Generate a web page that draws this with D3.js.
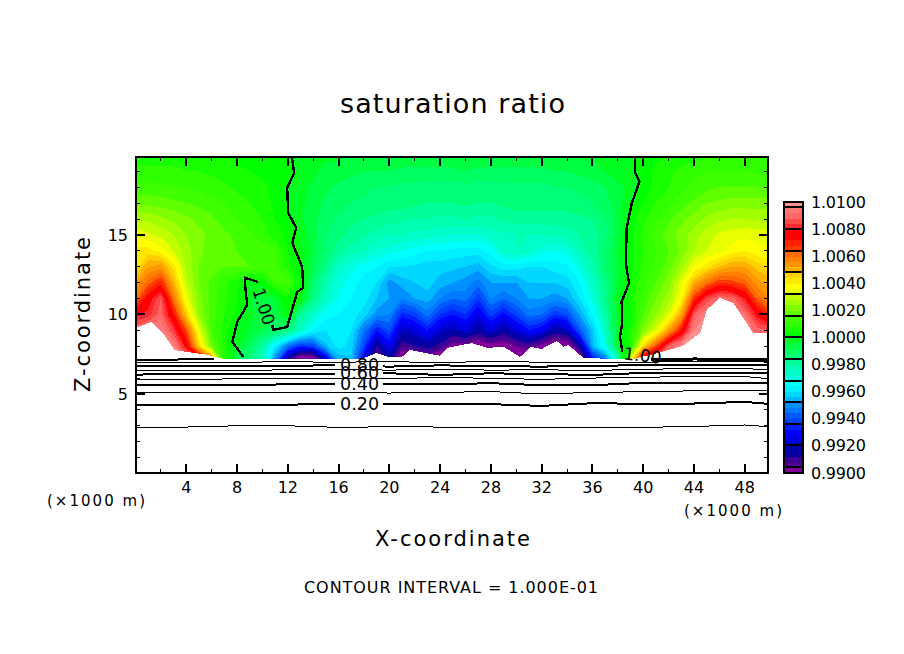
<!DOCTYPE html>
<html><head><meta charset="utf-8">
<script src="https://d3js.org/d3.v7.min.js"></script>
<style>html,body{margin:0;background:#fff}svg{display:block}text{font-family:"DejaVu Sans",sans-serif;fill:#000}</style>
</head><body><svg id="c" width="904" height="654"></svg>
<script>
const titleText="saturation ratio", xTitle="X-coordinate", zTitle="Z-coordinate", intervalText="CONTOUR INTERVAL = 1.000E-01", unitText="(×1000 m)";
const xTicks=[4,8,12,16,20,24,28,32,36,40,44,48], xMinor=[2,6,10,14,18,22,26,30,34,38,42,46];
const zTicks=[5,10,15], zMinor=[1,2,3,4,6,7,8,9,11,12,13,14,16,17,18,19];
const barLabels=["0.9900","0.9920","0.9940","0.9960","0.9980","1.0000","1.0020","1.0040","1.0060","1.0080","1.0100"];
const palette=["#800099","#500090","#3c0098","#0800a0","#0000a8","#0000d0","#0000e8","#0000ff","#0020ff","#0040ff","#0058ff","#0078ff","#0090ff","#00b8ff","#00d8ff","#00f0ff","#00ffff","#00ffe0","#00ffc8","#00ffb0","#00ff98","#00ff78","#00ff60","#00ff40","#00ff20","#00ff00","#18ff00","#30ff00","#40ff00","#60ff00","#80ff00","#a0ff00","#c0ff00","#e8ff00","#ffff00","#ffe800","#ffd000","#ffb000","#ff9800","#ff8000","#ff6800","#ff3800","#ff2000","#ff0000","#ff0000","#ff2830","#ff4848","#ff6868","#ff7878","#ff9090"];
// saturation ratio minus 1, in units of 1e-4; columns x=0..50 km, rows z=20..7 km
const zRows=[20,19,18,17,16,15,14,13,12,11,10,9,8,7];
const r20=[6,6,6,6,6,5,5,4,3,3,2, 1,1,-1,-2,-3,-3,-4,-4,-4,-5, -5,-5,-5,-5,-5,-5,-5,-5,-5,-5, -5,-5,-4,-4,-3,-3,-2,-1,-1,2, 3,4,5,6,7,8,8,8,8,8];
const r19=[9,9,9,9,8,8,7,6,5,4,3, 2,1,-1,-3,-5,-6,-7,-8,-8,-8, -9,-9,-9,-9,-9,-8,-9,-9,-9,-9, -9,-9,-8,-8,-7,-6,-4,-2,-1,2, 5,7,9,11,12,12,12,12,11,11];
const r18=[13,13,13,12,12,11,10,9,7,6,5, 3,0,-2,-5,-7,-9,-10,-11,-12,-12, -13,-13,-14,-14,-14,-13,-14,-14,-13,-13, -13,-13,-12,-12,-11,-10,-8,-5,-3,2, 5,8,11,13,15,16,16,16,16,16];
const r17=[20,19,18,17,16,15,13,12,10,8,6, 3,0,-3,-6,-9,-10,-12,-13,-13,-14, -14,-15,-16,-16,-16,-15,-16,-16,-15,-14, -14,-14,-14,-14,-13,-12,-10,-6,0,4, 8,11,14,17,20,21,22,22,22,22];
const r16=[28,27,25,23,21,19,17,14,12,10,8, 4,1,-3,-7,-10,-13,-15,-16,-17,-18, -19,-20,-20,-21,-21,-20,-21,-21,-19,-18, -18,-18,-18,-18,-17,-16,-12,-6,2,7, 11,15,19,22,25,27,28,28,27,27];
const r15=[35,33,31,28,24,21,19,17,15,13,10, 6,3,-1,-6,-12,-15,-17,-20,-22,-24, -24,-25,-26,-27,-28,-28,-28,-26,-25,-24, -24,-24,-23,-22,-20,-18,-14,-6,3,9, 14,18,22,26,30,33,34,35,35,34];
const r14=[42,42,38,32,26,21,18,16,16,15,14, 12,4,0,-6,-12,-18,-22,-24,-28,-30, -32,-34,-36,-36,-37,-38,-38,-34,-26,-24, -26,-30,-32,-30,-24,-18,-12,-4,3,8, 12,16,21,28,32,34,38,40,37,36];
const r13=[42,52,54,42,27,20,18,16,16,16,14, 13,6,0,-7,-16,-26,-30,-34,-36,-40, -40,-41,-42,-42,-43,-44,-46,-41,-38,-38, -40,-40,-38,-37,-30,-22,-12,-5,3,9, 13,18,26,36,42,48,52,52,46,44];
const r12=[52,62,70,50,30,20,15,9,5,-1,1, 12,14,2,-12,-22,-30,-34,-38,-40,-50, -46,-44,-42,-46,-48,-50,-54,-48,-48,-48, -44,-44,-44,-42,-36,-26,-16,-4,4,11, 16,22,34,50,60,68,66,62,54,50];
const r11=[60,76,88,60,36,22,14,9,4,-4,-6, -4,4,1,-15,-25,-32,-36,-38,-44,-48, -52,-48,-46,-52,-56,-54,-63,-52,-56,-52, -48,-48,-50,-48,-40,-30,-16,-2,5,13, 20,26,38,68,85,92,90,80,62,56];
const r10=[78,82,90,72,46,24,14,8,3,-3,-6, -7,1,-18,-26,-34,-36,-38,-42,-50,-52, -66,-62,-54,-64,-68,-64,-74,-62,-70,-62, -54,-56,-64,-60,-48,-36,-20,-3,2,16, 24,33,52,88,96,96,96,92,78,68];
const r9=[92,96,96,84,65,35,15,6,-1,-4,-8, -10,-14,-26,-36,-40,-38,-40,-54,-68,-60, -80,-76,-68,-78,-82,-76,-84,-76,-84,-76, -68,-72,-84,-80,-58,-44,-26,-2,6,22, 34,52,72,96,98,98,98,96,90,88];
const r8=[98,98,98,96,78,45,20,6,-3,-10,-20, -38,-55,-65,-62,-45,-38,-42,-62,-88,-72, -92,-88,-85,-90,-100,-100,-104,-100,-102,-96, -92,-100,-104,-104,-85,-46,-32,-5,6,45, 65,88,98,98,98,98,98,98,98,98];
const r7=[98,98,98,98,98,95,70,10,-10,-15,-25, -55,-95,-118,-118,-85,-50,-45,-75,-100,-88, -110,-105,-105,-110,-115,-115,-115,-115,-115,-110, -110,-115,-115,-115,-110,-75,-60,-30,45,95, 98,98,98,98,98,98,98,98,98,98];
const rows=[r20,r19,r18,r17,r16,r15,r14,r13,r12,r11,r10,r9,r8,r7];
// upper edge of the blanked (white) area
const floorX=[0,1.25,2.27,3.06,5.8,6.2,6.8,17.9,19,19.9,21,21.6,24,24.55,26.5,27.7,29,30.3,31.1,32,33.2,33.7,34.1,35.3,36.6,39.2,41.2,43.1,44.5,45,46.05,47.1,48,48.65,49.83];
const floorZ=[9.15,9.53,8.71,7.76,7.45,7.33,7.23,7.23,7.58,7.33,7.33,7.77,7.4,7.9,8.2,7.9,7.96,7.33,7.96,7.83,8.33,7.96,8.08,7.26,7.23,7.2,7.58,8.02,8.84,10.28,11.04,10.72,9.65,8.84,8.84];
// contour lines near the ground
const levelX=[0,4,8,12,16,20,24,28,32,36,40,44,48,50];
const lev01=[2.92,2.92,3.0,3.0,2.90,2.94,2.92,2.88,2.92,2.86,2.9,2.96,3.05,2.94];
const lev02=[4.31,4.31,4.33,4.33,4.37,4.37,4.4,4.36,4.25,4.42,4.38,4.4,4.5,4.37];
const lev03=[5.08,5.08,5.08,5.1,5.08,5.06,5.1,5.15,5.0,5.1,5.14,5.2,5.25,5.18];
const lev04=[5.57,5.58,5.58,5.6,5.6,5.62,5.6,5.68,5.55,5.55,5.7,5.72,5.72,5.7];
const lev05=[5.92,5.92,5.95,5.95,6.0,5.95,6.05,5.98,5.92,6.0,6.05,6.1,6.1,5.95];
const lev06=[6.22,6.25,6.25,6.25,6.28,6.3,6.2,6.3,6.25,6.2,6.32,6.35,6.35,6.3];
const lev07=[6.5,6.5,6.48,6.52,6.55,6.5,6.55,6.5,6.52,6.48,6.55,6.6,6.58,6.55];
const lev08=[6.76,6.78,6.75,6.78,6.8,6.72,6.8,6.75,6.72,6.78,6.8,6.82,6.8,6.82];
const lev09=[7.0,6.96,7.0,7.02,7.0,7.03,6.98,7.04,7.0,6.98,7.0,7.05,7.02,7.05];
const thinLevels=[lev01,lev03,lev05,lev07,lev09], thickLevels=[lev02,lev04,lev06,lev08];
const lev10LeftX=[0,3,6.2], lev10LeftZ=[7.14,7.16,7.22];
const lev10RightX=[40.6,44,48,49.83], lev10RightZ=[7.16,7.2,7.18,7.2];
// the 1.00 contour
const oneAX=[12.32,12.5,11.95,12.03,12.66,12.35,13.13,13.21,12.74,11.95,10.85,10.77];
const oneAZ=[19.9,18.9,17.96,16.38,15.44,14.5,12.99,11.67,11.42,9.21,9.03,9.34];
const oneBX=[9.67,8.65,8.65,8.8,8.02,7.62,8.49];
const oneBZ=[12.04,12.3,11.73,10.6,9.53,8.27,7.33];
const oneCX=[39.35,39.35,39.7,39.1,38.7,38.62,38.88,38.3,38.35,38.17,38.35];
const oneCZ=[19.9,18.92,18.35,17,15.44,13.24,11.98,10.8,9.47,8.6,7.66];
const levelLabels=[["0.20",4.37],["0.40",5.6],["0.60",6.33],["0.80",6.8]];

const svg=d3.select("#c");
const L=136,R=768,T=157,B=473;
const x=d3.scaleLinear().domain([0,49.83]).range([135.5,768]);
const z=d3.scaleLinear().domain([0,19.9]).range([473.5,157]);
const zb=d3.scaleLinear().domain([0.99,1.01]).range([472.5,202]);
svg.append("clipPath").attr("id","pc").append("rect").attr("x",L).attr("y",T).attr("width",R-L).attr("height",B-T);
const plot=svg.append("g").attr("clip-path","url(#pc)").attr("shape-rendering","crispEdges");
const nx=rows[0].length, nz=rows.length, vals=rows.flat();
const thresholds=palette.map((_,i)=>-100+4*i);
const proj=d3.geoTransform({point(a,b){this.stream.point(x(a-.5),z(zRows[0]-(b-.5)))}});
const path=d3.geoPath(proj);
plot.append("rect").attr("x",L).attr("y",T).attr("width",R-L).attr("height",B-T).attr("fill",palette[0]);
plot.selectAll("path.f").data(d3.contours().size([nx,nz]).thresholds(thresholds.slice(1))(vals)).join("path").attr("class","f")
  .attr("d",path).attr("fill",(d,i)=>palette[i+1]);
const mask=d3.area().x(i=>x(floorX[i])).y0(z(0)).y1(i=>z(floorZ[i]));
plot.append("path").attr("d",mask(d3.range(floorX.length))).attr("fill","#fff");
const lineOf=(xs,zs)=>d3.line().x(i=>x(xs[i])).y(i=>z(zs[i]))(d3.range(xs.length));
const thick=plot.append("g").attr("fill","none").attr("stroke","#000").attr("stroke-width",2);
thickLevels.forEach(l=>thick.append("path").attr("d",lineOf(levelX,l)));
thick.append("path").attr("d",lineOf(lev10LeftX,lev10LeftZ));
thick.append("path").attr("d",lineOf(lev10RightX,lev10RightZ)).attr("stroke-width",3);
[[oneAX,oneAZ],[oneBX,oneBZ],[oneCX,oneCZ]].forEach(([a,b])=>thick.append("path").attr("d",lineOf(a,b)).attr("stroke-width",2.4));
plot.selectAll("rect.g").data(levelLabels).join("rect").attr("class","g").attr("fill","#fff")
  .attr("x",x(15.7)).attr("width",x(19.5)-x(15.7)).attr("y",d=>z(d[1])-6).attr("height",12);
const thin=plot.append("g").attr("fill","none").attr("stroke","#000").attr("stroke-width",1);
thinLevels.forEach(l=>thin.append("path").attr("d",lineOf(levelX,l)));
svg.selectAll("text.lv").data(levelLabels).join("text").attr("class","lv").attr("x",x(17.65)).attr("y",d=>z(d[1])+6)
  .attr("text-anchor","middle").attr("font-size",17).attr("textLength",39).attr("lengthAdjust","spacingAndGlyphs").text(d=>d[0]);
svg.append("text").attr("transform",`translate(${x(10.1)},${z(10.5)}) rotate(72)`).attr("text-anchor","middle").attr("y",6).attr("font-size",17).text("1.00");
svg.append("text").attr("transform",`translate(${x(39.95)},${z(7.42)}) rotate(7)`).attr("text-anchor","middle").attr("y",6).attr("font-size",17).text("1.00");
// frame and ticks
const ax=svg.append("g").attr("stroke","#000").attr("shape-rendering","crispEdges");
ax.append("rect").attr("x",L).attr("y",T).attr("width",R-L).attr("height",B-T).attr("fill","none").attr("stroke-width",2);
const tick=(list,len,w)=>{list.forEach(v=>{
  ax.append("line").attr("x1",x(v)).attr("x2",x(v)).attr("y1",B).attr("y2",B-len).attr("stroke-width",w);
  ax.append("line").attr("x1",x(v)).attr("x2",x(v)).attr("y1",T).attr("y2",T+len).attr("stroke-width",w);})};
const tickZ=(list,len,w)=>{list.forEach(v=>{
  ax.append("line").attr("y1",z(v)).attr("y2",z(v)).attr("x1",L).attr("x2",L+len).attr("stroke-width",w);
  ax.append("line").attr("y1",z(v)).attr("y2",z(v)).attr("x1",R).attr("x2",R-len).attr("stroke-width",w);})};
tick(xTicks,9,2);tick(xMinor,4,1);tickZ(zTicks,9,2);tickZ(zMinor,4,1);
svg.selectAll("text.xt").data(xTicks).join("text").attr("class","xt").attr("x",d=>x(d)).attr("y",493).attr("text-anchor","middle").attr("font-size",16).text(d=>d);
svg.selectAll("text.zt").data(zTicks).join("text").attr("class","zt").attr("x",128).attr("y",d=>z(d)+6).attr("text-anchor","end").attr("font-size",16).text(d=>d);
svg.append("text").attr("x",47).attr("y",506).attr("font-size",15).attr("textLength",98).attr("lengthAdjust","spacing").text(unitText);
svg.append("text").attr("x",684).attr("y",516).attr("font-size",15).attr("textLength",98).attr("lengthAdjust","spacing").text(unitText);
svg.append("text").attr("x",340).attr("y",113).attr("font-size",27).attr("textLength",225).attr("lengthAdjust","spacing").text(titleText);
svg.append("text").attr("x",375).attr("y",546).attr("font-size",21).attr("textLength",155).attr("lengthAdjust","spacing").text(xTitle);
svg.append("text").attr("transform","translate(90,392) rotate(-90)").attr("font-size",21).attr("textLength",155).attr("lengthAdjust","spacing").text(zTitle);
svg.append("text").attr("x",304).attr("y",593).attr("font-size",16).attr("textLength",294).attr("lengthAdjust","spacing").text(intervalText);
// colour bar
const bar=svg.append("g").attr("shape-rendering","crispEdges");
bar.selectAll("rect").data(palette).join("rect").attr("x",784).attr("width",19)
  .attr("y",(d,i)=>zb(0.99+(i+1)*0.0004)).attr("height",(d,i)=>zb(0.99+i*0.0004)-zb(0.99+(i+1)*0.0004)+.5).attr("fill",d=>d);
bar.selectAll("line").data(d3.range(13)).join("line").attr("x1",783).attr("x2",804)
  .attr("y1",d=>zb(0.9904+d*0.0016)).attr("y2",d=>zb(0.9904+d*0.0016)).attr("stroke","#000").attr("stroke-width",2);
bar.append("rect").attr("x",784).attr("y",202).attr("width",19).attr("height",270.5).attr("fill","none").attr("stroke","#000").attr("stroke-width",2);
svg.selectAll("text.bl").data(barLabels).join("text").attr("class","bl").attr("x",811).attr("y",d=>zb(+d)+6)
  .attr("font-size",16).attr("textLength",55).attr("lengthAdjust","spacing").text(d=>d);
</script></body></html>
